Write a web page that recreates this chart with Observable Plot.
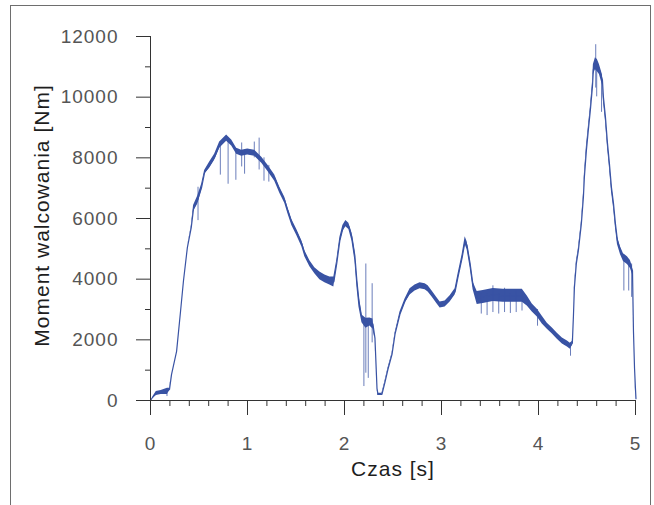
<!DOCTYPE html>
<html><head><meta charset="utf-8">
<script src="https://cdn.jsdelivr.net/npm/d3@7"></script>
<script src="https://cdn.jsdelivr.net/npm/@observablehq/plot@0.6"></script>
<style>
html,body{margin:0;padding:0;background:#fff;overflow:hidden;width:654px;height:505px}
#frame{position:absolute;left:10px;top:5px;width:641px;height:600px;border:1px solid #6e6e6e;box-sizing:border-box}
#chart{position:absolute;left:0;top:0}
#chart svg text{letter-spacing:1px}
</style></head>
<body><div id="frame"></div><div id="chart"></div>
<script>
// Time [s]
const timeS = [0,0.02,0.06,0.11,0.175,0.196,0.217,0.269,0.31,0.34,0.38,0.42,0.444,0.486,0.527,0.558,0.61,0.661,0.713,0.785,0.837,0.888,0.94,1.002,1.074,1.147,1.209,1.281,1.333,1.384,1.415,1.457,1.508,1.56,1.591,1.643,1.694,1.746,1.798,1.849,1.89,1.921,1.952,1.983,2.014,2.045,2.076,2.107,2.128,2.149,2.18,2.221,2.262,2.293,2.314,2.335,2.345,2.386,2.417,2.448,2.49,2.521,2.572,2.624,2.676,2.727,2.779,2.831,2.862,2.903,2.955,2.986,3.037,3.089,3.14,3.171,3.213,3.244,3.264,3.295,3.326,3.368,3.43,3.533,3.636,3.74,3.833,3.884,3.936,3.988,4.039,4.091,4.143,4.194,4.246,4.298,4.329,4.349,4.36,4.37,4.39,4.411,4.442,4.463,4.473,4.494,4.514,4.535,4.556,4.566,4.587,4.607,4.628,4.659,4.669,4.69,4.711,4.731,4.752,4.773,4.793,4.814,4.845,4.876,4.917,4.948,4.969,4.979,4.99,5.0,5.005];
// Rolling torque [Nm] (mean of the trace)
const torqueNm = [0,100,230,265,300,365,860,1620,2950,3950,5040,5700,6330,6600,7030,7520,7760,8020,8420,8650,8490,8220,8150,8190,8150,7920,7660,7330,6930,6600,6270,5870,5540,5170,4840,4510,4280,4110,4010,3940,3910,4540,5270,5670,5830,5740,5400,4770,3940,3280,2690,2550,2590,2520,2060,400,200,200,600,1030,1520,2190,2850,3280,3580,3710,3780,3750,3680,3510,3280,3150,3180,3350,3580,4080,4710,5270,5100,4510,3780,3380,3410,3480,3450,3450,3450,3280,3050,2880,2650,2450,2290,2120,1960,1860,1790,1890,2780,3710,4510,4940,5830,6700,7360,8250,8920,9580,10340,10910,11100,11040,10910,10570,10010,9350,8490,7820,7030,6500,5830,5270,4940,4710,4610,4480,4280,2290,1060,360,60];
// Half-width of the noise band around the trace [Nm]
const spreadNm = [0,0,65,65,100,35,0,0,0,0,0,35,100,130,100,65,100,100,100,100,100,100,100,100,100,100,100,100,100,100,100,100,100,100,100,100,100,130,130,130,165,100,100,100,100,100,130,165,200,200,130,165,130,165,35,0,35,35,35,35,35,35,65,65,100,100,100,100,100,100,100,100,100,100,100,100,100,130,130,130,130,215,215,215,215,215,215,165,130,130,130,100,100,100,100,100,100,65,0,65,65,65,65,100,100,130,100,100,130,165,200,200,165,165,130,130,130,130,130,130,130,130,130,130,130,130,130,0,0,65,65];
// Single spikes: time, low, high [Nm]
const spikeT  = [0.17,0.49,0.72,0.80,0.88,0.94,0.97,1.07,1.12,1.17,1.22,2.20,2.22,2.245,2.285,3.41,3.47,3.53,3.59,3.65,3.71,3.77,3.83,3.99,4.33,4.59,4.60,4.65,4.88,4.93,4.96];
const spikeLo = [130,5930,7430,7130,7260,7700,7460,8000,7600,7230,7200,460,900,730,1900,2850,2800,2900,2850,2900,2870,2900,2950,2450,1460,10300,10010,9500,3610,3610,3400];
const spikeHi = [330,7030,8450,8650,8300,8490,8250,8520,8650,8000,7750,2700,4500,2700,3850,3500,3500,3780,3500,3700,3500,3600,3550,3000,1900,11730,11000,10700,4800,4650,4500];

const xMajor = [0,1,2,3,4,5];
const xMinor = [0.2,0.4,0.6,0.8,1.2,1.4,1.6,1.8,2.2,2.4,2.6,2.8,3.2,3.4,3.6,3.8,4.2,4.4,4.6,4.8];
const yMajor = [0,2000,4000,6000,8000,10000,12000];
const yMinor = [1000,3000,5000,7000,9000,11000];
const xTitle = "Czas [s]";
const yTitle = "Moment walcowania [Nm]";

const trace = timeS.map((t,i)=>({t, v:torqueNm[i], lo:torqueNm[i]-spreadNm[i], hi:torqueNm[i]+spreadNm[i]}));
const spikes = spikeT.map((t,i)=>({t, lo:spikeLo[i], hi:spikeHi[i]}));
const col = "#3953a4";
const axisCol = "#333";
const labCol = "#555";

const chart = Plot.plot({
  width:654, height:505,
  marginLeft:150, marginRight:19, marginTop:36, marginBottom:105,
  x:{domain:[0,5]}, y:{domain:[0,12000]},
  style:{fontFamily:"'Liberation Sans', Arial, sans-serif", fontSize:"19px", background:"transparent", overflow:"visible"},
  marks:[
    Plot.areaY(trace,{x:"t", y1:"lo", y2:"hi", fill:col, clip:false}),
    Plot.line(trace,{x:"t", y:"v", stroke:col, strokeWidth:1.2}),
    Plot.ruleX(spikes,{x:"t", y1:"lo", y2:"hi", stroke:col, strokeWidth:1, strokeOpacity:0.75}),
    Plot.ruleX([0],{stroke:axisCol}),
    Plot.ruleY([0],{stroke:axisCol}),
    Plot.axisY({ticks:yMajor, tickSize:14, tickPadding:18, tickFormat:d3.format("d"), fill:labCol, stroke:axisCol, label:null}),
    Plot.axisY({ticks:yMinor, tickSize:5, tickFormat:()=>"", stroke:axisCol, label:null}),
    Plot.axisX({ticks:xMajor, tickSize:15, tickPadding:21, tickFormat:d3.format("d"), fill:labCol, stroke:axisCol, label:null}),
    Plot.axisX({ticks:xMinor, tickSize:6, tickFormat:()=>"", stroke:axisCol, label:null}),
    Plot.text([xTitle],{frameAnchor:"bottom", dy:69, fontSize:21, fill:"#1e1e1e", lineAnchor:"middle", textAnchor:"middle"}),
    Plot.text([yTitle],{frameAnchor:"left", rotate:-90, dx:-108, dy:-3, fontSize:21, fill:"#1e1e1e", lineAnchor:"middle", textAnchor:"middle"})
  ]
});
document.getElementById("chart").appendChild(chart);
</script>
</body></html>
